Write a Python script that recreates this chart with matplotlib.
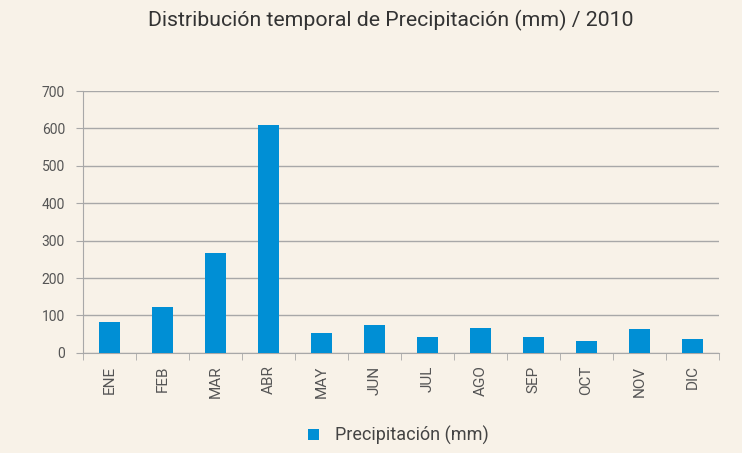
import matplotlib.pyplot as plt
import numpy as np

months = ['ENE', 'FEB', 'MAR', 'ABR', 'MAY', 'JUN', 'JUL', 'AGO', 'SEP', 'OCT', 'NOV', 'DIC']
precip = [83, 123, 267, 609, 53, 75, 43, 67, 43, 33, 64, 37]

bg = '#f8f2e8'
blue = '#008fd5'
grey = '#a8a8a8'
plt.rcParams['font.family'] = ['Roboto', 'DejaVu Sans']

fig = plt.figure(figsize=(7.42, 4.53), dpi=100, facecolor=bg)
ax = fig.add_axes([0.112, 0.221, 0.857, 0.578], facecolor=bg)

x = np.arange(len(months))
ax.bar(x, precip, width=0.4, color=blue, label='Precipitación (mm)', zorder=3)

ax.set_xlim(-0.5, len(months) - 0.5)
ax.set_ylim(0, 700)
ax.set_yticks(range(0, 701, 100))
ax.yaxis.grid(True, color=grey, linewidth=1, zorder=0)

ax.set_xticks(x)
ax.set_xticklabels(months, rotation=90, fontsize=11, color='#555555')
ax.set_xticks(np.arange(-0.5, len(months), 1), minor=True)
ax.tick_params(axis='x', which='major', length=0, pad=9)
ax.tick_params(axis='x', which='minor', length=5, color=grey)
ax.tick_params(axis='y', length=5, color=grey, labelsize=10, labelcolor='#555555', pad=8)

for s in ['top', 'right']:
    ax.spines[s].set_visible(False)
for s in ['left', 'bottom']:
    ax.spines[s].set_color(grey)

fig.text(0.526, 0.955, 'Distribución temporal de Precipitación (mm) / 2010',
         ha='center', va='center', fontsize=15.3, color='#333333')

fig.legend(loc='center', bbox_to_anchor=(0.537, 0.038), frameon=False,
           fontsize=13, handlelength=0.6, handleheight=0.6, handletextpad=0.9,
           labelcolor='#444444')

fig.savefig('out.png', dpi=100, facecolor=bg)
